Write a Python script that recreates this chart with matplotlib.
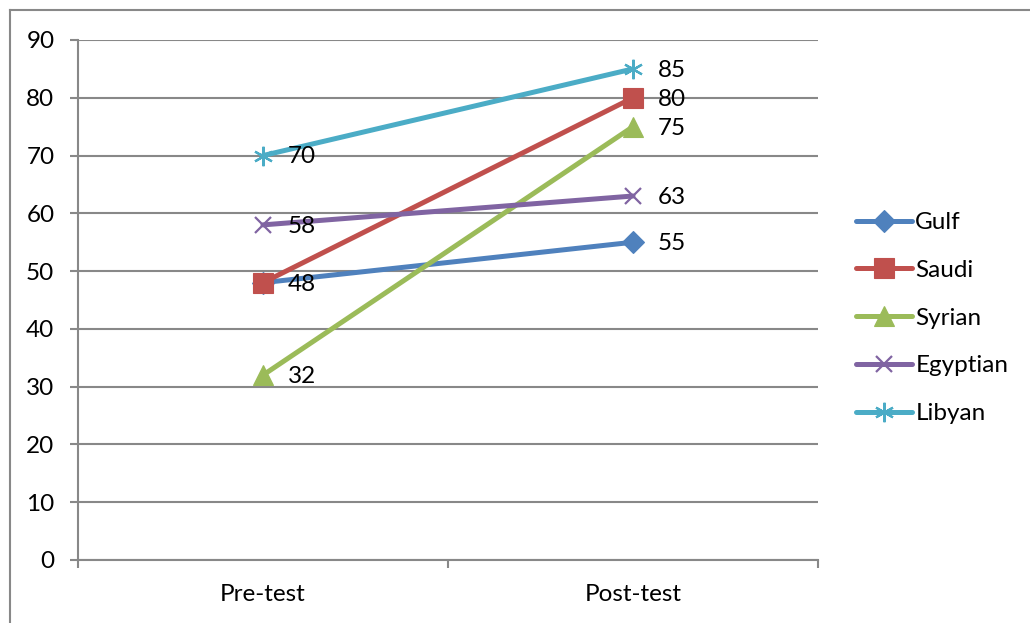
import matplotlib
matplotlib.use("Agg")
import matplotlib.pyplot as plt
from matplotlib.lines import Line2D

plt.rcParams['font.family'] = ['Lato', 'DejaVu Sans']

phases = ["Pre-test", "Post-test"]
groups = ["Gulf", "Saudi", "Syrian", "Egyptian", "Libyan"]
gulf = [48, 55]
saudi = [48, 80]
syrian = [32, 75]
egyptian = [58, 63]
libyan = [70, 85]
series = [gulf, saudi, syrian, egyptian, libyan]

colors = ["#4F81BD", "#C0504D", "#9BBB59", "#8064A2", "#4BACC6"]
markers = ["D", "s", "^", "x", (6, 2, 0)]
msizes = [11, 14, 14, 12, 14]

FS = 17.5
W, H = 1030, 623
fig = plt.figure(figsize=(W / 100, H / 100), dpi=100)
ax = fig.add_axes([78 / W, 1 - 560 / H, (818 - 78) / W, (560 - 40) / H])

xpos = [0.5, 1.5]
grid_c = "#888888"
for v, name, c, m, ms in zip(series, groups, colors, markers, msizes):
    filled = m not in ("x",) and not isinstance(m, tuple)
    ax.plot(xpos, v, color=c, lw=3.6, marker=m, markersize=ms,
            markeredgewidth=1.6 if not filled else 0.8,
            markerfacecolor=c, markeredgecolor=c, label=name,
            solid_capstyle="round", zorder=3)

# value labels to the right of each point
skip = {(1, 0)}  # Saudi pre-test shares its label position with Gulf
for i, v in enumerate(series):
    for j, val in enumerate(v):
        if (i, j) in skip:
            continue
        ax.annotate(str(val), (xpos[j], val), xytext=(18, -1),
                    textcoords="offset points", va="center", ha="left",
                    fontsize=FS, color="black", zorder=4)

ax.set_xlim(0, 2)
ax.set_ylim(0, 90)
ax.set_yticks(range(0, 91, 10))
ax.yaxis.grid(True, color=grid_c, lw=1.5)
ax.set_axisbelow(True)

ax.set_xticks(xpos)
ax.set_xticklabels(phases, fontsize=FS)
ax.set_xticks([0, 1, 2], minor=True)
ax.tick_params(axis="x", which="major", length=0, pad=17)
ax.tick_params(axis="x", which="minor", length=6, width=1.5, color=grid_c, direction="out")
ax.tick_params(axis="y", length=6, width=1.5, color=grid_c, pad=11, labelsize=FS)

for s in ("top", "right"):
    ax.spines[s].set_visible(False)
for s in ("left", "bottom"):
    ax.spines[s].set_color(grid_c)
    ax.spines[s].set_linewidth(1.5)

leg = fig.legend(loc="center left", bbox_to_anchor=(846 / W, 1 - 318 / H),
                 frameon=False, fontsize=FS, handlelength=2.3,
                 handletextpad=0.15, labelspacing=1.1, borderaxespad=0)

# outer chart border
fig.add_artist(Line2D([10 / W, 10 / W], [0, 1 - 10 / H], transform=fig.transFigure,
                      color=grid_c, lw=1.5))
fig.add_artist(Line2D([10 / W, 1], [1 - 10 / H, 1 - 10 / H], transform=fig.transFigure,
                      color=grid_c, lw=1.5))

fig.savefig("out.png", dpi=100)
